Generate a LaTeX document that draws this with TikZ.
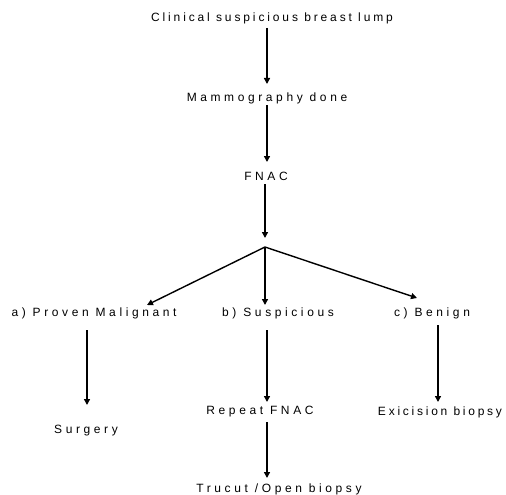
\documentclass[tikz,border=0pt]{standalone}
\usepackage{fontspec}
\setmainfont{Liberation Sans}[LetterSpace=30]
\usetikzlibrary{arrows.meta}
\begin{document}
\begin{tikzpicture}[x=1pt,y=-1pt,
  lbl/.style={inner sep=0pt,font=\fontsize{12}{14}\selectfont,anchor=center},
  arr/.style={line width=1.4pt,-{Triangle[length=6pt,width=6pt]}}]
\useasboundingbox (0,0) rectangle (506,495);
\node[lbl] (n1) at (272,18) {\addfontfeature{LetterSpace=24}Clinical suspicious breast lump};
\node[lbl] (n2) at (267,98) {Mammography done};
\node[lbl] (n3) at (266,176) {FNAC};
\coordinate (br) at (265,247);
\node[lbl] (a) at (94,313) {a) Proven Malignant};
\node[lbl] (b) at (278,313) {b) Suspicious};
\node[lbl] (c) at (432,313) {c) Benign};
\node[lbl] (s) at (86,431) {Surgery};
\node[lbl] (r) at (260,412) {Repeat FNAC};
\node[lbl] (e) at (440,412) {\addfontfeature{LetterSpace=23}Exicision biopsy};
\node[lbl] (t) at (279,489) {Trucut /Open biopsy};
\coordinate (a1) at (147,305);
\coordinate (b1) at (265,305);
\coordinate (c1) at (417,298);
\draw[arr] (267,28) -- (267,84);
\draw[arr] (267,105) -- (267,162);
\draw[arr] (265,184) -- (265,238);
\draw[arr] (br) -- (a1);
\draw[arr] (br) -- (b1);
\draw[arr] (br) -- (c1);
\draw[arr] (87,330) -- (87,405);
\draw[arr] (267,330) -- (267,402);
\draw[arr] (438,325) -- (438,402);
\draw[arr] (267,422) -- (267,478);
\end{tikzpicture}
\end{document}
